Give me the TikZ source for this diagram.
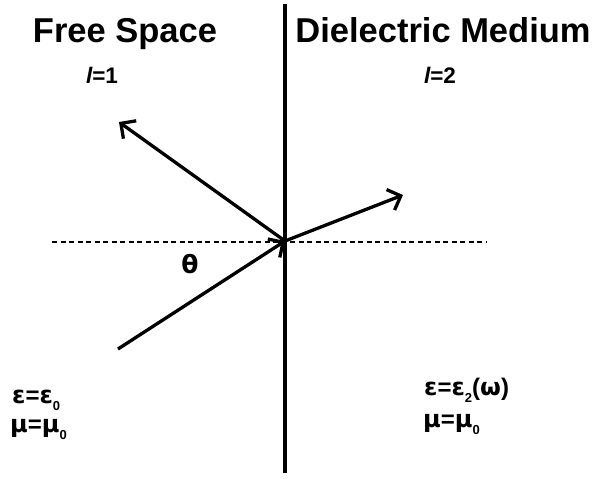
\documentclass[tikz,border=0pt]{standalone}
\usepackage{fontspec}
\setmainfont{Liberation Sans}
\newfontfamily\greekfont{DejaVu Sans}
\usetikzlibrary{arrows.meta}
\begin{document}
\begin{tikzpicture}[x=1pt,y=-1pt,font=\bfseries,
	ray/.style={line width=3.3pt,-{Straight Barb[length=11pt,width=22pt,line width=3.3pt]}},
	title/.style={anchor=base,inner sep=0pt,font=\bfseries\fontsize{34.5}{40}\selectfont},
	lab/.style={anchor=base,inner sep=0pt,font=\bfseries\fontsize{22.5}{24}\selectfont},
	mat/.style={anchor=base west,inner sep=0pt,font=\bfseries\fontsize{24}{26}\selectfont}]
	\newcommand{\lowsub}[1]{\raisebox{-7pt}{\fontsize{13}{13}\selectfont #1}}
	\newcommand{\gr}[1]{{\greekfont #1}}
	\useasboundingbox (0,0) rectangle (592,479);
	\coordinate (o) at (285,241);
	\coordinate (top) at (285,4); \coordinate (bot) at (285,473);
	\coordinate (dl) at (52,242); \coordinate (dr) at (487,242);
	\coordinate (src) at (118,349); \coordinate (refl) at (119,122); \coordinate (trans) at (403,195);
	\draw[line width=3.8pt] (top) -- (bot);
	\draw[line width=1.5pt,dash pattern=on 5pt off 3.5pt] (dl) -- (dr);
	\draw[ray] (src) -- (o);
	\draw[ray] (o) -- (refl);
	\draw[ray] (o) -- (trans);
	\node[title] (free) at (125,42) {Free Space};
	\node[title] (diel) at (443,42) {Dielectric Medium};
	\foreach \x/\n in {102/1,440/2} \node[lab] (l\n) at (\x,83) {{\itshape l}=\n};
	\node[inner sep=0pt,font=\bfseries\greekfont\fontsize{25}{26}\selectfont] (theta) at (190,264) {θ};
	\node[mat] (epsL) at (12,403) {\gr{ε}=\gr{ε}\lowsub{0}};
	\node[mat] (muL) at (10,432) {\gr{μ}=\gr{μ}\lowsub{0}};
	\node[mat] (epsR) at (424,395) {\gr{ε}=\gr{ε}\lowsub{2}(\gr{ω})};
	\node[mat] (muR) at (423,427) {\gr{μ}=\gr{μ}\lowsub{0}};
\end{tikzpicture}
\end{document}
